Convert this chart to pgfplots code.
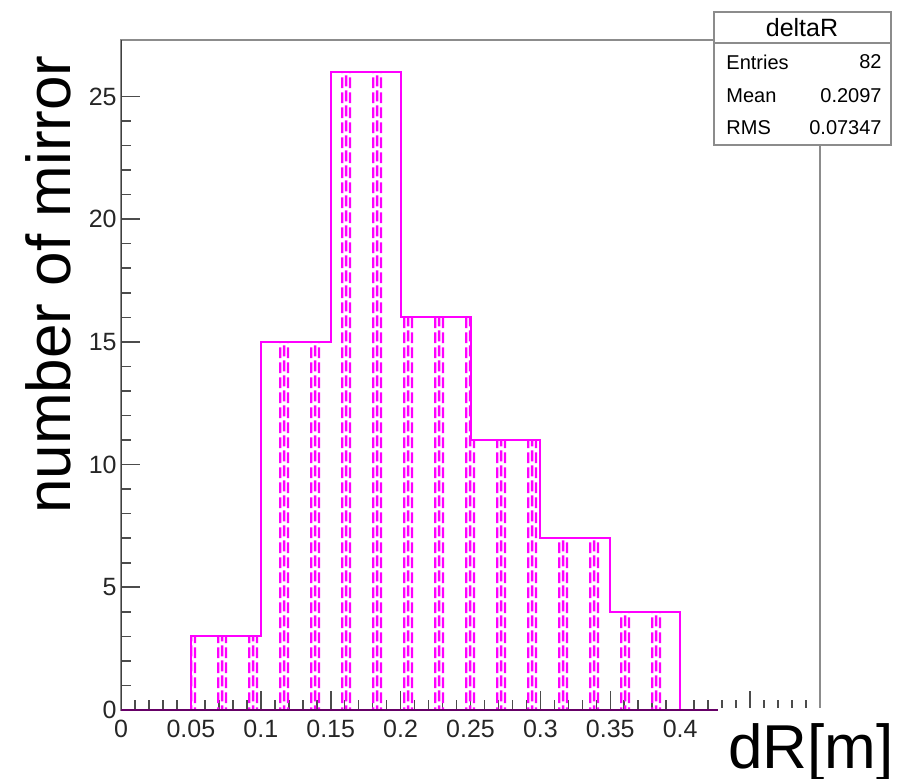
\documentclass[border=0pt]{standalone}
\usepackage{fontspec}
\setmainfont{Liberation Sans}
\usepackage{pgfplots}
\pgfplotsset{compat=1.18}
\usetikzlibrary{patterns}
\definecolor{hist}{RGB}{255,0,255}
\definecolor{framegray}{RGB}{140,140,140}
\pgfdeclarepatternformonly{roothatch}{\pgfqpoint{0pt}{0pt}}{\pgfqpoint{15.65pt}{7.5pt}}{\pgfqpoint{15.65pt}{7.5pt}}{%
  \pgfsetlinewidth{1.2pt}%
  \pgfpathmoveto{\pgfqpoint{0.6pt}{0.4pt}}\pgfpathlineto{\pgfqpoint{0.6pt}{6.2pt}}%
  \pgfpathmoveto{\pgfqpoint{2.6pt}{1.4pt}}\pgfpathlineto{\pgfqpoint{2.6pt}{7.2pt}}%
  \pgfpathmoveto{\pgfqpoint{4.6pt}{0.4pt}}\pgfpathlineto{\pgfqpoint{4.6pt}{6.2pt}}%
  \pgfusepath{stroke}}
\begin{document}
\begin{tikzpicture}
\path[use as bounding box] (0,0) rectangle (462pt,-389.5pt);
\begin{axis}[
  name=ax,
  at={(60.5pt,-355pt)}, anchor=south west,
  scale only axis, width=349.5pt, height=335pt,
  xmin=0, xmax=0.5, ymin=0, ymax=27.3,
  axis line style={framegray, line width=0.8pt},
  xtick={0,0.05,0.1,0.15,0.2,0.25,0.3,0.35,0.4,0.45,0.5},
  xticklabels={0,0.05,0.1,0.15,0.2,0.25,0.3,0.35,0.4,,},
  ytick={0,5,10,15,20,25},
  minor x tick num=4, minor y tick num=4,
  xtick pos=bottom, ytick pos=left,
  tick align=inside,
  major tick length=9.5pt, minor tick length=5pt,
  every tick/.style={black!70, line width=0.8pt},
  /pgf/number format/assume math mode=true,
  tick label style={font=\fontsize{12.5}{14}\selectfont, black!85},
  xticklabel style={yshift=-1.5pt},
  yticklabel style={xshift=0pt, inner sep=2pt},
]
\addplot[const plot, draw=hist, line width=1pt, pattern=roothatch, pattern color=hist]
  coordinates {(0,0) (0.05,3) (0.1,15) (0.15,26) (0.2,16) (0.25,11) (0.3,7) (0.35,4) (0.4,0) (0.5,0)} \closedcycle;
\draw[black!75, line width=1pt] (axis cs:0,0) -- (axis cs:0,27.3);
\draw[black!60!hist, line width=1pt] (axis cs:0,0) -- (axis cs:0.5,0);
\end{axis}
\begin{scope}[x=0.5pt, y=-0.5pt]
  % stats box
  \draw[framegray, line width=1pt, fill=white] (714,12) rectangle (891,145);
  \draw[framegray, line width=1pt] (714,43) -- (891,43);
  \node[anchor=center, inner sep=0pt, font=\fontsize{12.5}{14}\selectfont] at (802,28) {deltaR};
  \node[anchor=west, inner sep=0pt, font=\fontsize{10}{12}\selectfont] at (726,62) {Entries};
  \node[anchor=east, inner sep=0pt, font=\fontsize{10}{12}\selectfont] at (882,62) {82};
  \node[anchor=west, inner sep=0pt, font=\fontsize{10}{12}\selectfont] at (726,96) {Mean};
  \node[anchor=east, inner sep=0pt, font=\fontsize{10}{12}\selectfont] at (882,96) {0.2097};
  \node[anchor=west, inner sep=0pt, font=\fontsize{10}{12}\selectfont] at (726,128) {RMS};
  \node[anchor=east, inner sep=0pt, font=\fontsize{10}{12}\selectfont] at (882,128) {0.07347};
  % x label with white box
  \fill[white] (718,708) rectangle (924,779);
  \node[anchor=base west, inner sep=0pt, font=\fontsize{31}{36}\selectfont] at (728,768) {dR[m]};
  % y label
  \node[anchor=base, rotate=90, inner sep=0pt, font=\fontsize{31}{36}\selectfont] at (70,284.5) {number of mirror};
\end{scope}
\end{tikzpicture}
\end{document}
